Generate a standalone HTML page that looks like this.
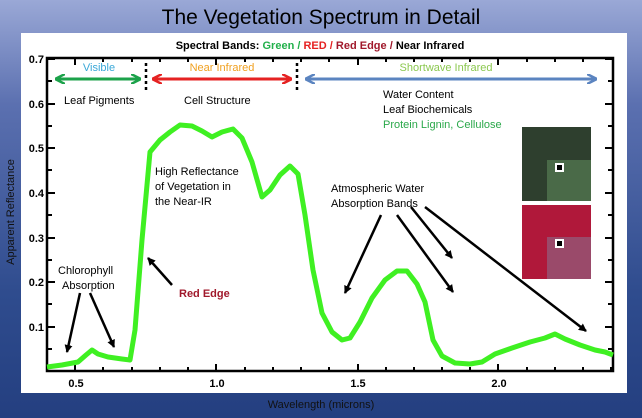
<!DOCTYPE html>
<html><head><style>
body{margin:0;width:642px;height:418px;overflow:hidden;background:linear-gradient(180deg,#9aa8d6 0%,#5b70b0 25%,#2f4c8e 70%,#243f80 100%);font-family:"Liberation Sans",sans-serif;}
svg{position:absolute;left:0;top:0}
</style></head><body>
<svg width="642" height="418" viewBox="0 0 642 418" font-family="Liberation Sans, sans-serif">
<defs>
<marker id="ab" markerWidth="8" markerHeight="8" refX="7" refY="4" orient="auto" markerUnits="userSpaceOnUse"><path d="M0,0 L8,4 L0,8 z" fill="#000"/></marker>
<marker id="ag" markerWidth="10" markerHeight="10" refX="9" refY="5" orient="auto-start-reverse" markerUnits="userSpaceOnUse"><path d="M0,0 L10,5 L0,10" fill="none" stroke="#1ca24a" stroke-width="2.5"/></marker>
<marker id="ar" markerWidth="10" markerHeight="10" refX="9" refY="5" orient="auto-start-reverse" markerUnits="userSpaceOnUse"><path d="M0,0 L10,5 L0,10" fill="none" stroke="#e52222" stroke-width="2.5"/></marker>
<marker id="au" markerWidth="10" markerHeight="10" refX="9" refY="5" orient="auto-start-reverse" markerUnits="userSpaceOnUse"><path d="M0,0 L10,5 L0,10" fill="none" stroke="#5b84c0" stroke-width="2.5"/></marker>
</defs>
<text x="321" y="24" font-size="21" text-anchor="middle" fill="#000">The Vegetation Spectrum in Detail</text>
<rect x="21" y="33" width="606" height="360" fill="#fff"/>
<text x="320" y="49" font-size="11" font-weight="bold" text-anchor="middle">Spectral Bands: <tspan fill="#22b04b">Green</tspan> <tspan fill="#22b04b">/</tspan> <tspan fill="#e52222">RED</tspan> <tspan fill="#e52222">/</tspan> <tspan fill="#a0182b">Red Edge</tspan> <tspan fill="#a0182b">/</tspan> Near Infrared</text>
<rect x="47" y="58" width="566" height="313" fill="none" stroke="#000" stroke-width="2.5"/>
<g stroke="#000" stroke-width="2">
<path d="M75,371v-7M216,371v-7M358,371v-7M498,371v-7M75,58v7M216,58v7M358,58v7M498,58v7"/>
<path d="M103,371v-4M132,371v-4M160,371v-4M188,371v-4M245,371v-4M273,371v-4M301,371v-4M329,371v-4M386,371v-4M414,371v-4M442,371v-4M470,371v-4M527,371v-4M555,371v-4M583,371v-4M611,371v-4"/>
<path d="M103,58v4M132,58v4M160,58v4M188,58v4M245,58v4M273,58v4M301,58v4M329,58v4M386,58v4M414,58v4M442,58v4M470,58v4M527,58v4M555,58v4M583,58v4"/>
<path d="M47,59h8M47,104h8M47,148h8M47,193h8M47,238h8M47,282h8M47,327h8M613,59h-8M613,104h-8M613,148h-8M613,193h-8M613,238h-8M613,282h-8M613,327h-8"/>
<path d="M47,81h5M47,126h5M47,170h5M47,215h5M47,260h5M47,304h5M47,349h5M613,81h-5M613,126h-5M613,170h-5M613,215h-5M613,260h-5M613,304h-5M613,349h-5"/>
</g>
<g font-size="11" font-weight="bold" text-anchor="end">
<text x="44" y="63">0.7</text><text x="44" y="108">0.6</text><text x="44" y="152">0.5</text><text x="44" y="197">0.4</text><text x="44" y="242">0.3</text><text x="44" y="286">0.2</text><text x="44" y="331">0.1</text>
</g>
<g font-size="11" font-weight="bold" text-anchor="middle">
<text x="76" y="387">0.5</text><text x="217" y="387">1.0</text><text x="358" y="387">1.5</text><text x="499" y="387">2.0</text>
</g>
<text x="321" y="408" font-size="11" text-anchor="middle" fill="#111">Wavelength (microns)</text>
<text transform="translate(14,212) rotate(-90)" font-size="11" text-anchor="middle" fill="#111">Apparent Reflectance</text>
<path d="M146,63V93M297,63V93" stroke="#000" stroke-width="2.5" stroke-dasharray="3,3"/>
<line x1="56" y1="79" x2="140" y2="79" stroke="#1ca24a" stroke-width="3" marker-start="url(#ag)" marker-end="url(#ag)"/>
<line x1="153" y1="79" x2="291" y2="79" stroke="#e52222" stroke-width="3" marker-start="url(#ar)" marker-end="url(#ar)"/>
<line x1="306" y1="79" x2="596" y2="79" stroke="#5b84c0" stroke-width="3" marker-start="url(#au)" marker-end="url(#au)"/>
<g font-size="11">
<text x="99" y="71" fill="#3aa8d8" text-anchor="middle">Visible</text>
<text x="222" y="71" fill="#f0a020" text-anchor="middle">Near Infrared</text>
<text x="446" y="71" fill="#8cc850" text-anchor="middle">Shortwave Infrared</text>
<text x="64" y="104">Leaf Pigments</text>
<text x="184" y="104">Cell Structure</text>
<text x="383" y="98">Water Content</text>
<text x="383" y="113">Leaf Biochemicals</text>
<text x="383" y="128" fill="#2aa84a">Protein Lignin, Cellulose</text>
<text x="155" y="175">High Reflectance</text>
<text x="155" y="190">of Vegetation in</text>
<text x="155" y="205">the Near-IR</text>
<text x="331" y="192">Atmospheric Water</text>
<text x="331" y="207">Absorption Bands</text>
<text x="58" y="274">Chlorophyll</text>
<text x="62" y="289">Absorption</text>
<text x="179" y="297" fill="#a0182b" font-weight="bold">Red Edge</text>
</g>
<g stroke="#000" stroke-width="2.5" fill="none" marker-end="url(#ab)">
<line x1="80" y1="293" x2="67" y2="352"/>
<line x1="90" y1="293" x2="114" y2="347"/>
<line x1="172" y1="285" x2="148" y2="258"/>
<line x1="381" y1="215" x2="345" y2="293"/>
<line x1="397" y1="215" x2="453" y2="292"/>
<line x1="411" y1="207" x2="452" y2="258"/>
<line x1="425" y1="207" x2="586" y2="331"/>
</g>
<path d="M47,367 L62,365 L78,362 L86,355 L92,350 L98,354 L108,357 L122,359 L130,360 L135,330 L142,240 L150,152 L160,140 L170,132 L180,125 L192,126 L202,131 L212,137 L222,132 L233,129 L242,138 L252,162 L262,197 L270,190 L280,175 L290,166 L298,174 L305,215 L313,270 L322,313 L332,332 L342,340 L350,338 L360,322 L372,298 L385,280 L397,271 L407,271 L417,284 L425,302 L433,340 L442,356 L455,363 L470,364 L482,362 L495,354 L512,348 L530,342 L545,338 L555,334 L565,339 L580,345 L595,350 L605,352 L613,355" fill="none" stroke="#3ff022" stroke-width="5" stroke-linejoin="round"/>
<rect x="522" y="127" width="69" height="74" fill="#2e3f2e"/>
<rect x="547" y="160" width="44" height="41" fill="#4a6a48"/>
<rect x="522" y="205" width="69" height="74" fill="#b0183a"/>
<rect x="547" y="237" width="44" height="42" fill="#9a4a6a"/>
<rect x="556" y="164" width="7" height="7" fill="#000" stroke="#fff" stroke-width="2"/>
<rect x="556" y="240" width="7" height="7" fill="#000" stroke="#fff" stroke-width="2"/>
</svg>
</body></html>
